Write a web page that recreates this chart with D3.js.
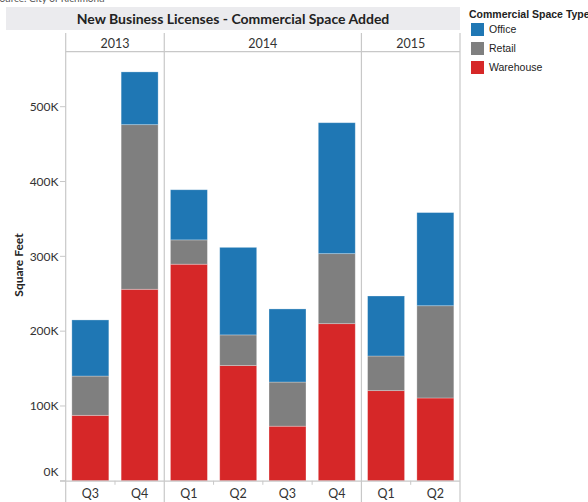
<!DOCTYPE html>
<html><head><meta charset="utf-8">
<script src="https://cdn.jsdelivr.net/npm/d3@7"></script>
<style>
body{margin:0;background:#fff;}
svg{display:block;font-family:Lato,"Open Sans",sans-serif;}
</style>
</head><body>
<svg id="c" width="588" height="502"></svg>
<script>
// ---- data ----
const years = ["2013", "2014", "2015"];
const quarters = ["Q3", "Q4", "Q1", "Q2", "Q3", "Q4", "Q1", "Q2"];
const periodYears = ["2013", "2013", "2014", "2014", "2014", "2014", "2015", "2015"];
const warehouse = [87500, 256000, 289500, 154000, 73000, 210000, 120500, 110700];
const retail = [52500, 220000, 32500, 41000, 59000, 93600, 46300, 123300];
const office = [75000, 70500, 67000, 117000, 97700, 175000, 80200, 124500];
const seriesNames = ["Office", "Retail", "Warehouse"];
const seriesColors = ["#1f77b4", "#7f7f7f", "#d62728"];
const yTicks = [0, 100000, 200000, 300000, 400000, 500000];
const yTickLabels = ["0K", "100K", "200K", "300K", "400K", "500K"];
const titleText = "New Business Licenses - Commercial Space Added";
const yTitle = "Square Feet";
const legendTitle = "Commercial Space Type";
const sourceText = "Source: City of Richmond";

// ---- build ----
const svg = d3.select("#c");
const rows = quarters.map((q, i) => ({
  i, q, year: periodYears[i],
  Warehouse: warehouse[i], Retail: retail[i], Office: office[i]
}));
const stack = d3.stack().keys(["Warehouse", "Retail", "Office"]);
const stacked = stack(rows);
const color = d3.scaleOrdinal().domain(seriesNames).range(seriesColors);

const x = d3.scaleBand().domain(d3.range(quarters.length))
  .range([65.7, 460]).paddingInner(0.25).paddingOuter(0.125);
const y = d3.scaleLinear().domain([0, 500000]).range([480.8, 106.7]);
const step = x.step();
const lineColor = "#c8c8c8";

// source text (clipped at top)
svg.append("text").attr("x", -6).attr("y", 2).attr("font-size", 10)
  .attr("fill", "#555").text(sourceText);

// header background + title
svg.append("rect").attr("x", 6).attr("y", 7).attr("width", 454).attr("height", 23)
  .attr("fill", "#ebebee");
svg.append("text").attr("x", 233).attr("y", 23.5).attr("text-anchor", "middle")
  .attr("font-size", 14).attr("font-weight", "bold").attr("fill", "#222")
  .text(titleText);

// panel boundaries
const panels = years.map(yr => {
  const idx = rows.filter(r => r.year === yr).map(r => r.i);
  const x0 = x(idx[0]) - step * 0.125;
  const x1 = x(idx[idx.length - 1]) + x.bandwidth() + step * 0.125;
  return {yr, x0, x1};
});
const bounds = [panels[0].x0, ...panels.map(p => p.x1)];

// vertical dividers
svg.selectAll("line.div").data(bounds).join("line")
  .attr("x1", d => d).attr("x2", d => d).attr("y1", 33).attr("y2", 502)
  .attr("stroke", lineColor).attr("stroke-width", 1.2);
// header bottom line
svg.append("line").attr("x1", bounds[0]).attr("x2", bounds[bounds.length - 1])
  .attr("y1", 51.7).attr("y2", 51.7).attr("stroke", lineColor).attr("stroke-width", 1.2);
// year labels
svg.selectAll("text.yr").data(panels).join("text")
  .attr("x", d => (d.x0 + d.x1) / 2).attr("y", 47.5).attr("text-anchor", "middle")
  .attr("font-size", 12.5).attr("fill", "#333").text(d => d.yr);

// bars
svg.append("g").selectAll("g").data(stacked).join("g")
  .attr("fill", d => color(d.key))
  .selectAll("rect").data(d => d).join("rect")
  .attr("x", d => x(d.data.i)).attr("width", x.bandwidth())
  .attr("y", d => y(d[1])).attr("height", d => y(d[0]) - y(d[1]))
  .attr("stroke", "rgba(255,255,255,0.35)").attr("stroke-width", 0.8);

// x axis baseline
svg.append("line").attr("x1", 60).attr("x2", 460).attr("y1", y(0) + 0.3).attr("y2", y(0) + 0.3)
  .attr("stroke", lineColor).attr("stroke-width", 1.2);
// x ticks between quarters inside panels
const innerTicks = rows.filter((r, k) => k > 0 && rows[k - 1].year === r.year)
  .map(r => x(r.i) - step * 0.125);
svg.selectAll("line.xt").data(innerTicks).join("line")
  .attr("x1", d => d).attr("x2", d => d).attr("y1", y(0)).attr("y2", y(0) + 4)
  .attr("stroke", lineColor);
// quarter labels
svg.selectAll("text.q").data(rows).join("text")
  .attr("x", d => x(d.i) + x.bandwidth() / 2).attr("y", 497.5).attr("text-anchor", "middle")
  .attr("font-size", 12.5).attr("fill", "#333").text(d => d.q);

// y axis ticks & labels
svg.selectAll("line.yt").data(yTicks).join("line")
  .attr("x1", 60).attr("x2", 65.7).attr("y1", d => y(d)).attr("y2", d => y(d))
  .attr("stroke", lineColor);
svg.selectAll("text.yl").data(yTicks).join("text")
  .attr("x", 58.5).attr("y", d => (d === 0 ? y(d) - 9 : y(d)) + 4.3)
  .attr("text-anchor", "end").attr("font-size", 12).attr("fill", "#333")
  .text((d, k) => yTickLabels[k]);
svg.append("text").attr("transform", "translate(22.5,265) rotate(-90)")
  .attr("text-anchor", "middle").attr("font-size", 12).attr("font-weight", "bold")
  .attr("fill", "#222").text(yTitle);

// legend
const lg = svg.append("g").attr("font-family", "'Liberation Sans', Arial, sans-serif");
lg.append("text").attr("x", 469).attr("y", 18).attr("font-size", 10.5)
  .attr("font-weight", "bold").attr("fill", "#222").text(legendTitle);
const items = lg.selectAll("g.it").data(seriesNames).join("g")
  .attr("transform", (d, k) => `translate(471,${23 + k * 19})`);
items.append("rect").attr("width", 13).attr("height", 13).attr("fill", d => color(d));
items.append("text").attr("x", 18).attr("y", 10).attr("font-size", 10.5)
  .attr("fill", "#222").text(d => d);
</script>
</body></html>
